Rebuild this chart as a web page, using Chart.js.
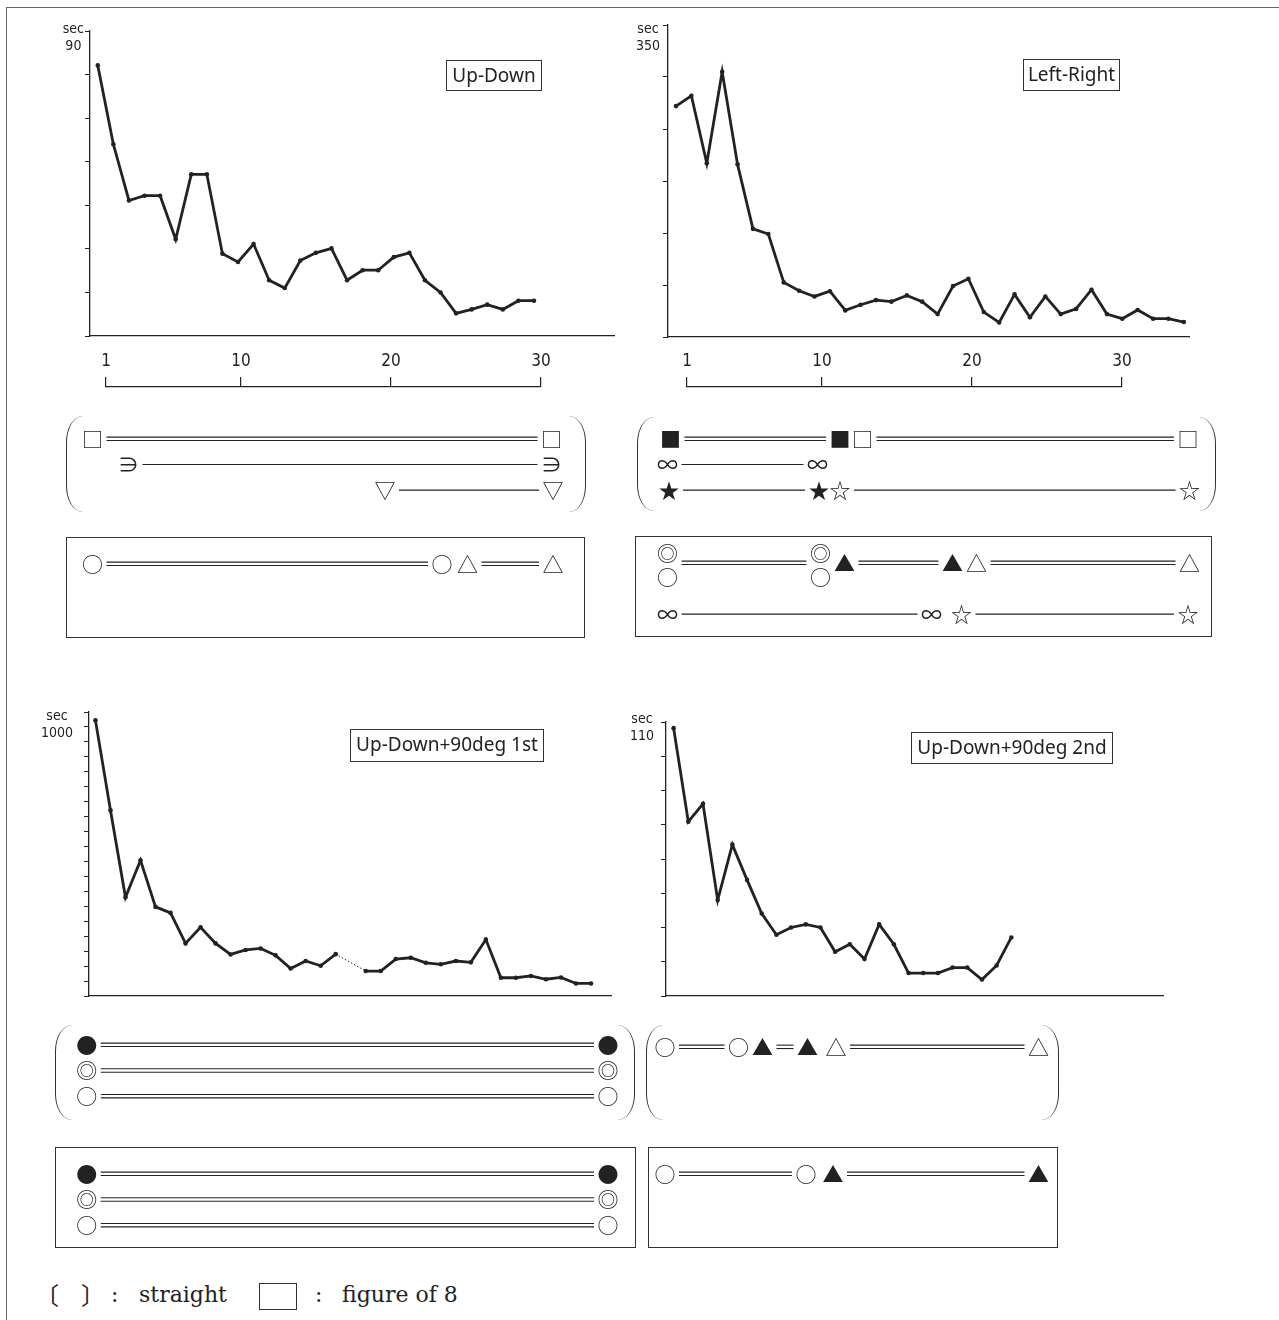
<!DOCTYPE html>
<html>
<head>
<meta charset="utf-8">
<script src="https://cdn.jsdelivr.net/npm/chart.js@4.4.1/dist/chart.umd.min.js"></script>
<style>
  body { margin: 0; background: #fff; }
  #page { position: relative; width: 1279px; height: 1320px; overflow: hidden; }
  canvas { position: absolute; }
  .frame { position: absolute; left: 6px; top: 7px; width: 1400px; height: 1400px;
           border-left: 1px solid #666; border-top: 1px solid #666; }
  .tag { position: absolute; box-sizing: border-box; border: 1.3px solid #333; color: #222;
         font: 19px 'Noto Sans', sans-serif; text-align: center; line-height: 28px; white-space: nowrap; }
  .paren { position: absolute; box-sizing: border-box; border-left: 1.7px solid #333;
           border-right: 1.7px solid #333; border-radius: 17px / 26px; }
  .box { position: absolute; box-sizing: border-box; border: 1.4px solid #333; }
  .legend { position: absolute; top: 1284px; font: 22px 'DejaVu Serif', serif; color: #222;
            line-height: 22px; white-space: nowrap; }
  .cjk { font-family: 'Noto Sans CJK JP', sans-serif; font-size: 24px; }
</style>
</head>
<body>
<div id="page">
  <div class="frame"></div>

  <!-- line charts -->
  <canvas id="lineA" width="585" height="327" style="left:30px;top:11px"></canvas>
  <canvas id="lineB" width="582" height="334" style="left:608px;top:5px"></canvas>
  <canvas id="lineC" width="583" height="306" style="left:29px;top:692px"></canvas>
  <canvas id="lineD" width="558" height="296" style="left:606px;top:702px"></canvas>

  <div class="tag" style="left:446px;top:60px;width:96px;height:31px">Up-Down</div>
  <div class="tag" style="left:1023px;top:59px;width:97px;height:32px">Left-Right</div>
  <div class="tag" style="left:350px;top:729px;width:194px;height:33px">Up-Down+90deg 1st</div>
  <div class="tag" style="left:911px;top:732px;width:202px;height:32px">Up-Down+90deg 2nd</div>

  <!-- trial rulers -->
  <canvas id="rulerA" width="465" height="44" style="left:91px;top:347px"></canvas>
  <canvas id="rulerB" width="465" height="44" style="left:672px;top:347px"></canvas>

  <!-- straight ( ) and figure of 8 [ ] groups -->
  <div class="paren" style="left:66px;top:416px;width:520px;height:96px"></div>
  <div class="box"   style="left:66px;top:537px;width:519px;height:101px"></div>
  <div class="paren" style="left:637px;top:417px;width:579px;height:94px"></div>
  <div class="box"   style="left:635px;top:536px;width:577px;height:101px"></div>
  <div class="paren" style="left:55px;top:1025px;width:580px;height:95px"></div>
  <div class="box"   style="left:55px;top:1147px;width:581px;height:101px"></div>
  <div class="paren" style="left:646px;top:1025px;width:413px;height:95px"></div>
  <div class="box"   style="left:648px;top:1147px;width:410px;height:101px"></div>

  <canvas id="straightA" width="561" height="101" style="left:46px;top:414px"></canvas>
  <canvas id="eightA"    width="561" height="101" style="left:46px;top:539px"></canvas>
  <canvas id="straightB" width="585" height="101" style="left:627px;top:414px"></canvas>
  <canvas id="eightB"    width="585" height="101" style="left:627px;top:538px"></canvas>
  <canvas id="straightC" width="600" height="101" style="left:35px;top:1020px"></canvas>
  <canvas id="eightC"    width="600" height="101" style="left:35px;top:1149px"></canvas>
  <canvas id="straightD" width="450" height="101" style="left:614px;top:1022px"></canvas>
  <canvas id="eightD"    width="450" height="101" style="left:614px;top:1149px"></canvas>

  <!-- key -->
  <span class="legend cjk" style="left:35px;top:1283px">〔</span>
  <span class="legend cjk" style="left:81px;top:1283px">〕</span>
  <span class="legend" style="left:111px">:</span>
  <span class="legend" style="left:139px">straight</span>
  <div class="box" style="left:259px;top:1283px;width:38px;height:27px"></div>
  <span class="legend" style="left:315px">:</span>
  <span class="legend" style="left:342px">figure of 8</span>
</div>

<script>
const INK = '#222';
const NARROW = "'Liberation Sans Narrow', 'DejaVu Sans Condensed', 'Liberation Sans', sans-serif";
const GLYPH_FONT = "21px 'Noto Sans CJK JP', 'DejaVu Sans', sans-serif";
const GAP = 14;

// time per trial (sec)
const upDown = [82.1, 64.0, 51.1, 52.2, 52.2, 42.2, 57.1, 57.1, 38.9, 37.0, 41.1, 32.8, 31.0, 37.3, 39.1,
                40.1, 32.8, 35.1, 35.1, 38.1, 39.1, 32.8, 30.0, 25.2, 26.1, 27.2, 26.1, 28.1, 28.1];
const leftRight = [272, 282, 217, 305, 216, 154, 149, 102.5, 94.5, 89, 94, 75.6, 81, 85.5, 84, 90, 84,
                   72, 99, 106, 74, 64, 91, 69, 89, 72, 77, 95.5, 72, 67.6, 76, 67.6, 67.6, 64.4];
const upDown90First = [972, 671, 380, 504, 348, 328, 226, 280, 226, 189, 204, 209, 186, 142, 167, 151, 190,
                       null, 133.5, 133.5, 173.6, 178, 161, 156, 167, 162.5, 239, 111, 111, 117, 106, 112, 92, 92];
const upDown90Second = [108.2, 80.9, 86.1, 58, 74.2, 63.9, 54.1, 47.9, 50, 50.9, 50, 42.9, 45.1, 40.8,
                        50.9, 45.1, 36.7, 36.7, 36.7, 38.3, 38.3, 34.8, 38.9, 47.1];

const rulerTicks = [1, 10, 20, 30];
const rows = ['1', '2', '3'];

// strategy rows: [row, from trial, to trial, start mark, end mark, single/double line]
const straightA = [
  [1, 0.1, 30.7, '□', '□', 2],
  [2, 2.5, 30.7, '∋', '∋', 1],
  [3, 19.6, 30.8, '▽', '▽', 1]
];
const eightA = [
  [1, 0.1, 23.4, '○', '○', 2],
  [1, 25.1, 30.8, '△', '△', 2]
];
const straightB = [
  [1, -0.1, 11.2, '■', '■', 2],
  [1, 12.7, 34.4, '□', '□', 2],
  [2, -0.3, 9.7, '∞', '∞', 1],
  [3, -0.2, 9.8, '★', '★', 1],
  [3, 11.2, 34.5, '☆', '☆', 1]
];
const eightB = [
  [1, -0.3, 9.9, '◎/○', '◎/○', 2],
  [1, 11.5, 18.7, '▲', '▲', 2],
  [1, 20.3, 34.5, '△', '△', 2],
  [3, -0.3, 17.3, '∞', '∞', 1],
  [3, 19.3, 34.4, '☆', '☆', 1]
];
const straightC = [
  [1, 0.45, 35.2, '●', '●', 2],
  [2, 0.45, 35.2, '◎', '◎', 2],
  [3, 0.45, 35.2, '○', '○', 2]
];
const eightC = [
  [1, 0.45, 35.2, '●', '●', 2],
  [2, 0.45, 35.2, '◎', '◎', 2],
  [3, 0.45, 35.2, '○', '○', 2]
];
const straightD = [
  [1, 0.4, 5.3, '○', '○', 2],
  [1, 6.9, 9.9, '▲', '▲', 2],
  [1, 11.8, 25.3, '△', '△', 2]
];
const eightD = [
  [1, 0.4, 9.8, '○', '○', 2],
  [1, 11.6, 25.3, '▲', '▲', 2]
];

const noChrome = { legend: { display: false }, tooltip: { enabled: false } };

function trialChart(id, values, ax) {
  const gap = ctx => ctx.p0.skip || ctx.p1.skip;
  return new Chart(document.getElementById(id), {
    type: 'line',
    data: { datasets: [{
      data: values.map((v, i) => ({ x: i + 1, y: v })),
      borderColor: INK, borderWidth: 2.8, tension: 0, spanGaps: true,
      pointRadius: 2.3, pointBackgroundColor: INK, pointBorderWidth: 0,
      segment: {
        borderDash: ctx => gap(ctx) ? [1.5, 2] : undefined,
        borderWidth: ctx => gap(ctx) ? 1 : undefined
      }
    }]},
    options: {
      responsive: false, animation: false, events: [],
      layout: { autoPadding: false, padding: { top: 20, left: 0, right: 0, bottom: 0 } },
      plugins: noChrome,
      scales: {
        x: { type: 'linear', min: ax.xMin, max: ax.xMax,
             ticks: { display: false }, grid: { display: false },
             border: { color: INK, width: 1.3 },
             afterFit: s => { s.height = 2; s.paddingLeft = 0; s.paddingRight = 0; } },
        y: { min: ax.min, max: ax.max,
             ticks: { stepSize: ax.step, autoSkip: false, maxTicksLimit: 40,
                      callback: v => v === ax.max ? ['sec', String(v)] : '',
                      crossAlign: 'center', labelOffset: ax.labelOffset, padding: ax.labelPad,
                      color: INK, font: { family: NARROW, size: 14, lineHeight: 1.25 } },
             grid: { drawOnChartArea: false, tickLength: 5, color: INK, lineWidth: 1 },
             border: { color: INK, width: 1.3 },
             // keep the label block from pushing the plot area around
             afterFit: s => { s.width = 60; s.paddingTop = 0; s.paddingBottom = 0; } }
      }
    }
  });
}

function rulerChart(id) {
  return new Chart(document.getElementById(id), {
    type: 'line',
    data: { datasets: [] },
    options: {
      responsive: false, animation: false, events: [],
      layout: { autoPadding: false, padding: { top: 0, left: 15, right: 15, bottom: 0 } },
      plugins: noChrome,
      scales: {
        x: { type: 'linear', position: 'top', min: 1, max: 30,
             afterBuildTicks: s => { s.ticks = rulerTicks.map(v => ({ value: v })); },
             ticks: { autoSkip: false, maxRotation: 0, padding: 5, color: INK,
                      font: { family: NARROW, size: 17 } },
             grid: { drawOnChartArea: false, tickLength: 10, color: INK, lineWidth: 1.2 },
             border: { color: INK, width: 1.2 },
             afterFit: s => { s.height = 40; } },
        y: { display: false }
      }
    }
  });
}

function drawMark(ctx, mark, px, py) {
  const parts = mark.split('/');
  if (parts.length === 1) { ctx.fillText(mark, px, py); return; }
  ctx.fillText(parts[0], px, py - 10);
  ctx.fillText(parts[1], px, py + 14);
}

function rowsPlugin(segments) {
  return {
    id: 'strategyRows',
    afterDraw(chart) {
      const { ctx, scales: { x, y } } = chart;
      ctx.save();
      ctx.strokeStyle = INK;
      ctx.fillStyle = INK;
      ctx.font = GLYPH_FONT;
      ctx.textAlign = 'center';
      ctx.textBaseline = 'middle';
      for (const [row, from, to, m0, m1, lines] of segments) {
        const py = y.getPixelForValue(row - 1);
        const x0 = x.getPixelForValue(from), x1 = x.getPixelForValue(to);
        ctx.lineWidth = lines === 2 ? 1.1 : 1.2;
        for (const o of (lines === 2 ? [-1.7, 1.7] : [0])) {
          ctx.beginPath();
          ctx.moveTo(x0 + GAP, py + o);
          ctx.lineTo(x1 - GAP, py + o);
          ctx.stroke();
        }
        drawMark(ctx, m0, x0, py);
        drawMark(ctx, m1, x1, py);
      }
      ctx.restore();
    }
  };
}

function strategyChart(id, segments, xMin, xMax) {
  return new Chart(document.getElementById(id), {
    type: 'scatter',
    data: { datasets: [] },
    options: {
      responsive: false, animation: false, events: [],
      layout: { autoPadding: false, padding: { top: 12, bottom: 12, left: 0, right: 0 } },
      plugins: noChrome,
      scales: {
        x: { type: 'linear', min: xMin, max: xMax, display: false },
        y: { type: 'category', labels: rows, offset: true, display: false }
      }
    },
    plugins: [rowsPlugin(segments)]
  });
}

trialChart('lineA', upDown,         { min: 20, max: 90,   step: 10, xMin: 0.5,  xMax: 34.2, labelOffset: 7,  labelPad: 1 });
trialChart('lineB', leftRight,      { min: 50, max: 350,  step: 50, xMin: 0.48, xMax: 34.4, labelOffset: 13, labelPad: 3 });
trialChart('lineC', upDown90First,  { min: 50, max: 1000, step: 50, xMin: 0.57, xMax: 35.4, labelOffset: 13, labelPad: 11 });
trialChart('lineD', upDown90Second, { min: 30, max: 110,  step: 10, xMin: 0.48, xMax: 34.4, labelOffset: 6,  labelPad: 7 });

rulerChart('rulerA');
rulerChart('rulerB');

strategyChart('straightA', straightA, -3, 34.4);
strategyChart('eightA',    eightA,    -3, 34.4);
strategyChart('straightB', straightB, -3, 36);
strategyChart('eightB',    eightB,    -3, 36);
strategyChart('straightC', straightC, -3, 37);
strategyChart('eightC',    eightC,    -3, 37);
strategyChart('straightD', straightD, -3, 27);
strategyChart('eightD',    eightD,    -3, 27);
</script>
</body>
</html>
